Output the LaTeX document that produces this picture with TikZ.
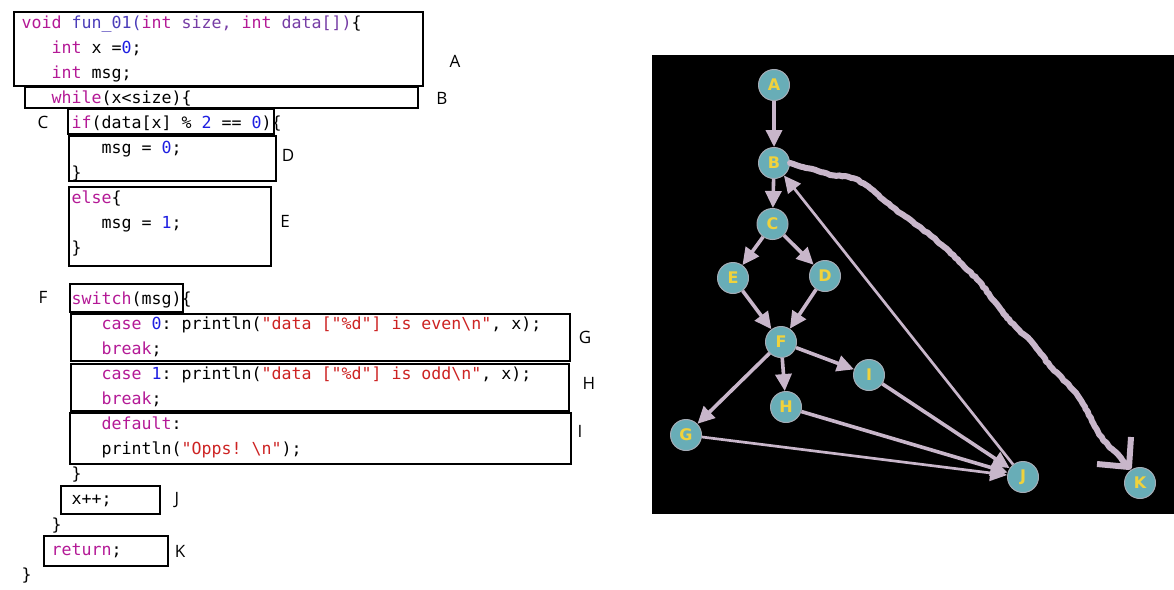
\documentclass[tikz,border=0pt]{standalone}
\usepackage{fontspec}
\usetikzlibrary{arrows.meta,decorations.pathmorphing}
\newfontfamily\codefont{DejaVu Sans Mono}[Ligatures=TeXOff]
\newfontfamily\labelfont{Open Sans}
\newfontfamily\letterfont{DejaVu Sans}

% syntax colours of the listing
\definecolor{kwc}{RGB}{180,25,150}
\definecolor{fnc}{RGB}{75,60,185}
\definecolor{parc}{RGB}{118,60,165}
\definecolor{numc}{RGB}{30,30,225}
\definecolor{strc}{RGB}{205,35,35}
% flow graph colours
\definecolor{nodefill}{RGB}{104,173,183}
\definecolor{nodeline}{RGB}{165,172,182}
\definecolor{edgec}{RGB}{200,182,202}
\definecolor{letterc}{RGB}{240,210,60}

\newcommand{\ckw}[1]{\textcolor{kwc}{#1}}
\newcommand{\cfn}[1]{\textcolor{fnc}{#1}}
\newcommand{\cpar}[1]{\textcolor{parc}{#1}}
\newcommand{\cnum}[1]{\textcolor{numc}{#1}}
\newcommand{\cstr}[1]{\textcolor{strc}{#1}}

\begin{document}
\begin{tikzpicture}[x=1pt,y=-1pt,
  codeline/.style={anchor=base west, inner sep=0pt,
    font=\codefont\fontsize{16.6}{20}\selectfont\frenchspacing},
  blockbox/.style={draw=black, line width=2pt},
  blocklabel/.style={inner sep=0pt, font=\labelfont\fontsize{17}{20}\selectfont},
  gnode/.style={circle, minimum size=31pt, inner sep=0pt, fill=nodefill,
    draw=nodeline, line width=1pt, text=letterc,
    font=\letterfont\bfseries\fontsize{16}{19}\selectfont},
  gedge/.style={draw=edgec, line width=3.6pt, -{Triangle[length=17pt,width=16pt]}},
  thinedge/.style={gedge, line width=2.7pt},
  handstroke/.style={draw=edgec, line width=6pt, line join=round},
]
\useasboundingbox (0,0) rectangle (1174,589);
\fill[white] (0,0) rectangle (1174,589);

% ---------------- source listing ----------------
\node[codeline] (l0)  at (21.5,28)   {\ckw{void} \cfn{fun\_01(}\ckw{int} \cpar{size,} \ckw{int} \cpar{data[])}\{};
\node[codeline] (l1)  at (51.5,53.1) {\ckw{int} x =\cnum{0};};
\node[codeline] (l2)  at (51.5,78.2) {\ckw{int} msg;};
\node[codeline] (l3)  at (51.5,103.3) {\ckw{while}(x<size)\{};
\node[codeline] (l4)  at (71.5,128.4) {\ckw{if}(data[x] \% \cnum{2} == \cnum{0})\{};
\node[codeline] (l5)  at (101.5,153.5) {msg = \cnum{0};};
\node[codeline] (l6)  at (71.5,178.6) {\}};
\node[codeline] (l7)  at (71.5,203.7) {\ckw{else}\{};
\node[codeline] (l8)  at (101.5,228.8) {msg = \cnum{1};};
\node[codeline] (l9)  at (71.5,253.9) {\}};
\node[codeline] (l11) at (71.5,304.1) {\ckw{switch}(msg)\{};
\node[codeline] (l12) at (101.5,329.2) {\ckw{case} \cnum{0}: println(\cstr{"data ["\%d"] is even\textbackslash n"}, x);};
\node[codeline] (l13) at (101.5,354.3) {\ckw{break};};
\node[codeline] (l14) at (101.5,379.4) {\ckw{case} \cnum{1}: println(\cstr{"data ["\%d"] is odd\textbackslash n"}, x);};
\node[codeline] (l15) at (101.5,404.5) {\ckw{break};};
\node[codeline] (l16) at (101.5,429.6) {\ckw{default}:};
\node[codeline] (l17) at (101.5,454.7) {println(\cstr{"Opps! \textbackslash n"});};
\node[codeline] (l18) at (71.5,479.8) {\}};
\node[codeline] (l19) at (71.5,504.9) {x++;};
\node[codeline] (l20) at (51.5,530)   {\}};
\node[codeline] (l21) at (51.5,555.1) {\ckw{return};};
\node[codeline] (l22) at (21.5,580.2) {\}};

% ---------------- block outlines ----------------
\draw[blockbox] (14,12)  rectangle (423,86);
\draw[blockbox] (25,87)  rectangle (418,108);
\draw[blockbox] (68,109) rectangle (274,134);
\draw[blockbox] (69,136) rectangle (276,181);
\draw[blockbox] (69,187) rectangle (271,266);
\draw[blockbox] (70,284) rectangle (183,312);
\draw[blockbox] (71,314) rectangle (570,361);
\draw[blockbox] (71,364) rectangle (569,411);
\draw[blockbox] (70,413) rectangle (571,464);
\draw[blockbox] (61,486) rectangle (160,514);
\draw[blockbox] (44,536) rectangle (168,566);

% ---------------- block labels ----------------
\node[blocklabel] (labA) at (455,61)  {A};
\node[blocklabel] (labB) at (442,98)  {B};
\node[blocklabel] (labC) at (43,122)  {C};
\node[blocklabel] (labD) at (288,155) {D};
\node[blocklabel] (labE) at (285,221) {E};
\node[blocklabel] (labF) at (43,297)  {F};
\node[blocklabel] (labG) at (585,337) {G};
\node[blocklabel] (labH) at (589,383) {H};
\node[blocklabel] (labI) at (580,431) {I};
\node[blocklabel] (labJ) at (177,500) {J};
\node[blocklabel] (labK) at (180,551) {K};

% ---------------- control flow graph ----------------
\fill[black] (652,55) rectangle (1174,514);

\node[gnode] (A) at (774,85)    {A};
\node[gnode] (B) at (774,163)   {B};
\node[gnode] (C) at (772.5,224) {C};
\node[gnode] (E) at (733,278)   {E};
\node[gnode] (D) at (825,276)   {D};
\node[gnode] (F) at (781,342)   {F};
\node[gnode] (I) at (869,375)   {I};
\node[gnode] (H) at (786,407)   {H};
\node[gnode] (G) at (686,435)   {G};
\node[gnode] (J) at (1023,477)  {J};
\node[gnode] (K) at (1140,483)  {K};

\draw[gedge] (A) -- (B);
\draw[gedge] (B) -- (C);
\draw[gedge] (C) -- (E);
\draw[gedge] (C) -- (D);
\draw[gedge] (E) -- (F);
\draw[gedge] (D) -- (F);
\draw[gedge] (F) -- (G);
\draw[gedge] (F) -- (H);
\draw[gedge] (F) -- (I);
\draw[thinedge] (G) -- (J);
\draw[gedge] (H) -- (J);
\draw[gedge] (I) -- (J);
\draw[thinedge] (J) -- (B);

% hand-drawn exit path from the loop head to the return node
\coordinate (kTip) at (1129,467);
\coordinate (kBarbUp) at (1131,437);
\coordinate (kBarbLeft) at (1097,464);
\pgfmathsetseed{11}
\draw[handstroke, line cap=round, decorate, decoration={random steps, segment length=3pt, amplitude=0.6pt}]
  (B.east) -- (803,167) -- (818,171) -- (830,175) -- (845,176) -- (856,179) -- (866,185)
  -- (876,193) -- (886,202) -- (900,213) -- (913,222) -- (930,235) -- (947,249)
  -- (962,264) -- (980,282) -- (995,302) -- (1007,318) -- (1019,330) -- (1031,341)
  -- (1041,354) -- (1050,366) -- (1062,378) -- (1074,391) -- (1083,404) -- (1091,418)
  -- (1098,432) -- (1104,441) -- (1112,449) -- (1121,458) -- (kTip);
\draw[handstroke] (kBarbUp) -- (kTip);
\draw[handstroke] (kBarbLeft) -- (kTip);
\end{tikzpicture}
\end{document}
